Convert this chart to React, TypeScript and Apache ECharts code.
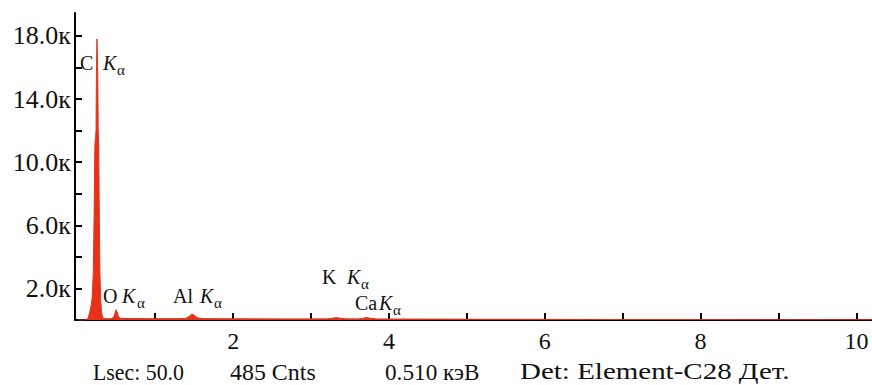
import React, { useEffect, useRef } from "react";
import * as echarts from "echarts";

// Spectrum: energy (keV) and counts
const energies = [
  0.0, 0.1, 0.12, 0.14, 0.16, 0.18, 0.19, 0.205, 0.215, 0.225, 0.232, 0.24, 0.245, 0.252, 0.257, 0.262,
  0.268, 0.275, 0.282, 0.29, 0.3, 0.31, 0.325, 0.35, 0.4, 0.44, 0.47, 0.49, 0.5, 0.51, 0.53, 0.56, 0.7,
  0.9, 1.1, 1.3, 1.38, 1.43, 1.47, 1.5, 1.54, 1.6, 1.8, 2.2, 2.6, 3.0, 3.2, 3.27, 3.32, 3.38, 3.45,
  3.6, 3.66, 3.71, 3.77, 3.85, 4.2, 5.0, 6.0, 7.0, 8.0, 9.0, 10.0, 10.2,
];
const counts = [
  0, 0, 50, 150, 500, 1000, 1400, 3000, 6500, 11000, 11500, 12000, 15600, 17800, 17800, 15600,
  12000, 11000, 6500, 3000, 1300, 500, 150, 90, 80, 90, 200, 550, 650, 500, 200, 100, 90,
  85, 85, 85, 90, 200, 380, 300, 150, 90, 80, 75, 70, 70, 75, 110, 150, 110, 75,
  70, 100, 160, 100, 65, 60, 50, 40, 30, 25, 20, 15, 15,
];

const xTicks = [1, 2, 3, 4, 5, 6, 7, 8, 9, 10];
const xLabels = [2, 4, 6, 8, 10];
const yTicks = [2000, 4000, 6000, 8000, 10000, 12000, 14000, 16000, 18000];
const yLabels = [2000, 6000, 10000, 14000, 18000];

const peakNames = ["C", "O", "Al", "K", "Ca"];
const footerTexts = ["Lsec: 50.0", "485 Cnts", "0.510 кэВ", "Det: Element-C28 Дет."];

const SERIF = "Liberation Serif";
const RED = "#e63219";

export default function App() {
  const ref = useRef<HTMLDivElement>(null);
  useEffect(() => {
    if (!ref.current) return;
    const chart = echarts.init(ref.current, null, { renderer: "svg" });
    const data = energies.map((e, i) => [e, counts[i]]);

    const annPos = [
      { x: [80, 103, 117], y: 63 },
      { x: [103, 122, 137], y: 296 },
      { x: [173, 200, 214], y: 296 },
      { x: [322, 347, 361], y: 277 },
      { x: [355, 379, 393], y: 303 },
    ];
    const graphics: any[] = [];
    peakNames.forEach((n, i) => {
      const p = annPos[i];
      graphics.push({
        type: "text", x: p.x[0], y: p.y,
        style: { text: n, fontFamily: SERIF, fontSize: 20, fill: "#111", align: "left", verticalAlign: "middle" },
      });
      graphics.push({
        type: "text", x: p.x[1], y: p.y,
        style: { text: "K", fontFamily: SERIF, fontSize: 20, fontStyle: "italic", fill: "#111", align: "left", verticalAlign: "middle" },
      });
      graphics.push({
        type: "text", x: p.x[2], y: p.y + 7,
        style: { text: "α", fontFamily: SERIF, fontSize: 15, fill: "#111", align: "left", verticalAlign: "middle" },
      });
    });
    const footX = [93, 230, 385, 520];
    const footScale = [0.95, 1.04, 1.01, 1.26];
    footerTexts.forEach((t, i) => {
      graphics.push({
        type: "text", x: footX[i], y: 372, scaleX: footScale[i],
        style: { text: t, fontFamily: SERIF, fontSize: 23, fill: "#111", align: "left", verticalAlign: "middle" },
      });
    });

    chart.setOption({
      animation: false,
      backgroundColor: "#fff",
      textStyle: { fontFamily: SERIF },
      grid: { left: 75, right: 0, top: 13, bottom: 65, containLabel: false },
      xAxis: {
        type: "value",
        min: -0.03,
        max: 10.2,
        axisLine: { show: true, onZero: false, lineStyle: { color: "#000", width: 2 } },
        axisTick: { show: true, inside: true, length: 7, customValues: xTicks, lineStyle: { color: "#000", width: 2 } },
        axisLabel: {
          show: true, customValues: xLabels, margin: 9, color: "#111",
          fontFamily: SERIF, fontSize: 24,
        },
        splitLine: { show: false },
      },
      yAxis: {
        type: "value",
        min: 0,
        max: 19450,
        axisLine: { show: true, onZero: false, lineStyle: { color: "#000", width: 2 } },
        axisTick: { show: true, inside: true, length: 7, customValues: yTicks, lineStyle: { color: "#000", width: 2 } },
        axisLabel: {
          show: true, customValues: yLabels, margin: 4, color: "#111",
          fontFamily: SERIF, fontSize: 26,
          formatter: (v: number) => (v / 1000).toFixed(1) + "к",
        },
        splitLine: { show: false },
      },
      series: [
        {
          type: "line",
          data,
          symbol: "none",
          lineStyle: { color: RED, width: 1 },
          areaStyle: { color: RED, opacity: 1 },
          z: 1,
        },
      ],
      graphic: graphics,
    });
    return () => chart.dispose();
  }, []);
  return <div ref={ref} style={{ position: "fixed", left: 0, top: 0, width: 872, height: 385 }} />;
}
